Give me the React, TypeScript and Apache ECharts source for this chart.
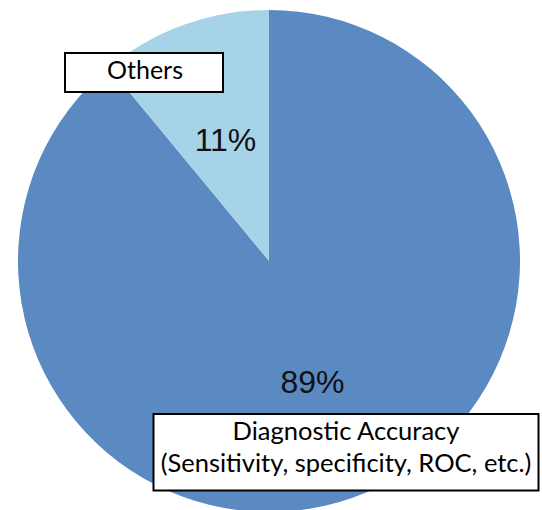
import React, { useEffect, useRef } from "react";
import * as echarts from "echarts";

const categories = ["Diagnostic Accuracy", "Others"];
const values = [89, 11];
const colors = ["#5a8ac1", "#a6d3e8"];
const boxLabels = ["Diagnostic Accuracy\n(Sensitivity, specificity, ROC, etc.)", "Others"];

export default function App() {
  const ref = useRef<HTMLDivElement>(null);
  useEffect(() => {
    document.body.style.margin = "0";
    const chart = echarts.init(ref.current!, null, { renderer: "svg" });
    chart.setOption({
      animation: false,
      backgroundColor: "#ffffff",
      series: [
        {
          type: "pie",
          center: [269, 261],
          radius: 251,
          startAngle: 90,
          clockwise: true,
          silent: true,
          itemStyle: { borderWidth: 0 },
          label: {
            show: true,
            position: "inside",
            formatter: "{c}%",
            color: "#111111",
            fontSize: 32,
            fontFamily: "'Liberation Sans Narrow', 'Liberation Sans', Arial, sans-serif",
          },
          labelLine: { show: false },
          data: categories.map((c, i) => ({
            name: c,
            value: values[i],
            itemStyle: { color: colors[i] },
          })),
        },
      ],
      graphic: [
        {
          type: "group",
          z: 100,
          children: [
            {
              type: "rect",
              z: 100,
              shape: { x: 65, y: 53, width: 158, height: 39 },
              style: { fill: "#ffffff", stroke: "#000000", lineWidth: 2 },
            },
            {
              type: "text",
              z: 101,
              x: 145,
              y: 69,
              style: {
                text: boxLabels[1],
                fontFamily: "Lato, 'Open Sans', sans-serif",
                fontSize: 25,
                fill: "#000000",
                align: "center",
                verticalAlign: "middle",
              },
            },
          ],
        },
        {
          type: "group",
          z: 100,
          children: [
            {
              type: "rect",
              z: 100,
              shape: { x: 153.5, y: 414, width: 385, height: 76.5 },
              style: { fill: "#ffffff", stroke: "#000000", lineWidth: 2 },
            },
            {
              type: "text",
              z: 101,
              x: 346,
              y: 446,
              style: {
                text: boxLabels[0],
                fontFamily: "Lato, 'Open Sans', sans-serif",
                fontSize: 25.5,
                lineHeight: 32,
                fill: "#000000",
                align: "center",
                verticalAlign: "middle",
              },
            },
          ],
        },
      ],
    });
    return () => chart.dispose();
  }, []);
  return <div ref={ref} style={{ width: 542, height: 510 }} />;
}
